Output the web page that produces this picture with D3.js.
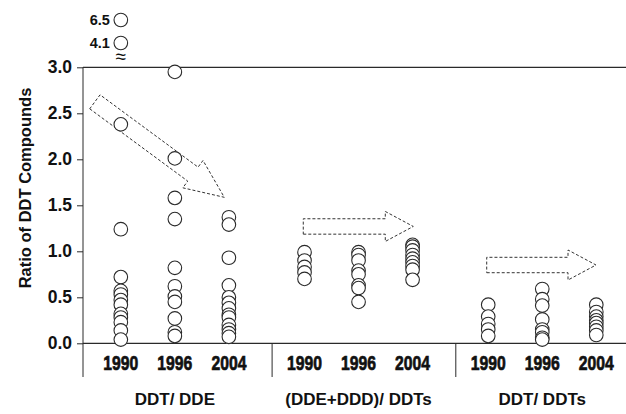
<!DOCTYPE html>
<html>
<head>
<meta charset="utf-8">
<script src="https://cdn.jsdelivr.net/npm/d3@7"></script>
<style>
  html, body { margin: 0; padding: 0; background: #fff; }
  svg { display: block; }
  text { font-family: "Liberation Sans", Arial, sans-serif; font-weight: bold; fill: #111; }
  .year { font-size: 21px; stroke: #111; stroke-width: 0.7px; }
</style>
</head>
<body>
<svg id="chart" width="626" height="414"></svg>
<script>
// Ratio groups and sampling years
const groups = ["DDT/ DDE", "(DDE+DDD)/ DDTs", "DDT/ DDTs"];
const years = ["1990", "1996", "2004"];

// Measured ratios, one array per group and year
const ddtDde1990 = [2.38, 1.24, 0.72, 0.57, 0.53, 0.47, 0.42, 0.32, 0.28, 0.23, 0.14, 0.04];
const ddtDde1996 = [2.95, 2.01, 1.58, 1.35, 0.82, 0.62, 0.51, 0.45, 0.27, 0.12, 0.08];
const ddtDde2004 = [1.37, 1.29, 0.93, 0.63, 0.50, 0.44, 0.38, 0.31, 0.28, 0.20, 0.15, 0.11, 0.07];
const ddeDddDdts1990 = [0.99, 0.90, 0.83, 0.77, 0.70];
const ddeDddDdts1996 = [0.99, 0.96, 0.90, 0.79, 0.75, 0.63, 0.60, 0.45];
const ddeDddDdts2004 = [1.07, 1.05, 1.01, 0.96, 0.92, 0.88, 0.84, 0.80, 0.69];
const ddtDdts1990 = [0.42, 0.29, 0.21, 0.15, 0.08];
const ddtDdts1996 = [0.59, 0.48, 0.41, 0.26, 0.15, 0.12, 0.06, 0.04];
const ddtDdts2004 = [0.42, 0.34, 0.29, 0.25, 0.22, 0.18, 0.14, 0.09];

// Values above the axis break (DDT/ DDE, 1990)
const offScaleValues = [6.5, 4.1];

// Y axis ticks
const yTicks = [0, 0.5, 1.0, 1.5, 2.0, 2.5, 3.0];

// Trend arrows, given in data units (x in year slots, y in ratio)
const trendArrows = [
  { x0: -0.48, y0: 2.625, x1: 1.915, y1: 1.587, shaft: 8.7, head: 17, headLen: 39 },
  { x0: 3.377, y0: 1.27, x1: 5.413, y1: 1.27, shaft: 7.7, head: 15, headLen: 28 },
  { x0: 6.772, y0: 0.851, x1: 8.795, y1: 0.851, shaft: 7.7, head: 15, headLen: 28 }
];

const series = [
  [ddtDde1990, ddtDde1996, ddtDde2004],
  [ddeDddDdts1990, ddeDddDdts1996, ddeDddDdts2004],
  [ddtDdts1990, ddtDdts1996, ddtDdts2004]
];

const svg = d3.select("#chart");
const ink = "#2a2a2a";

// slot index of year j within group g (groups separated by a gap)
const groupGap = 0.4;
const slot = (g, j) => g * (3 + groupGap) + j;

const x = d3.scaleLinear().domain([-0.7, 9.35]).range([83, 626]);
const y = d3.scaleLinear().domain([0, 3]).range([343.3, 67.3]);

// y axis
const yAxis = d3.axisLeft(y).tickValues(yTicks).tickFormat(d3.format(".1f")).tickSize(6).tickPadding(5);
const gy = svg.append("g").attr("transform", `translate(${x(-0.7)},0)`).call(yAxis);
gy.select(".domain").remove();
gy.selectAll(".tick line").attr("stroke", ink).attr("stroke-width", 1);
gy.selectAll(".tick text").style("font-size", "17.5px").attr("font-family", null).attr("fill", "#111");

const frameBottom = 377;
// axis line and horizontal rules at 0 and 3
svg.append("line").attr("x1", x(-0.7)).attr("x2", x(-0.7)).attr("y1", y(3)).attr("y2", frameBottom)
  .attr("stroke", ink).attr("stroke-width", 1);
[0, 3].forEach(v => {
  svg.append("line").attr("x1", x(-0.7)).attr("x2", x(9.35)).attr("y1", y(v)).attr("y2", y(v))
    .attr("stroke", ink).attr("stroke-width", 1.2);
});
// group separators
groups.forEach((gname, g) => {
  if (g === 0) return;
  const sx = x(slot(g - 1, 2) + 0.8);
  svg.append("line").attr("x1", sx).attr("x2", sx).attr("y1", y(0)).attr("y2", frameBottom)
    .attr("stroke", ink).attr("stroke-width", 1);
});

// axis title
svg.append("text")
  .attr("transform", `translate(31,188) rotate(-90)`)
  .attr("text-anchor", "middle")
  .style("font-size", "16.5px")
  .text("Ratio of DDT Compounds");

// trend arrows
function arrowPath(a) {
  const p0 = [x(a.x0), y(a.y0)], p1 = [x(a.x1), y(a.y1)];
  const dx = p1[0] - p0[0], dy = p1[1] - p0[1];
  const L = Math.hypot(dx, dy);
  const u = [dx / L, dy / L], n = [-u[1], u[0]];
  const nb = [p1[0] - u[0] * a.headLen, p1[1] - u[1] * a.headLen];
  const pt = (b, s) => [b[0] + n[0] * s, b[1] + n[1] * s];
  return d3.line()([
    pt(p0, a.shaft), pt(nb, a.shaft), pt(nb, a.head), p1,
    pt(nb, -a.head), pt(nb, -a.shaft), pt(p0, -a.shaft)
  ]) + "Z";
}
svg.append("g").selectAll("path").data(trendArrows).join("path")
  .attr("d", arrowPath)
  .attr("fill", "none")
  .attr("stroke", "#333")
  .attr("stroke-width", 1)
  .attr("stroke-dasharray", "3,2");

// points
const pts = [];
series.forEach((grp, g) => grp.forEach((vals, j) => vals.forEach(v => pts.push({ g, j, v }))));
svg.append("g").selectAll("circle").data(pts).join("circle")
  .attr("cx", d => x(slot(d.g, d.j)))
  .attr("cy", d => y(d.v))
  .attr("r", 6.8)
  .attr("fill", "#fff")
  .attr("stroke", ink)
  .attr("stroke-width", 1.1);

// values beyond the axis break
const breakY = d3.scalePoint().domain(offScaleValues).range([20, 43]);
const bx = x(slot(0, 0));
const brk = svg.append("g");
brk.selectAll("circle").data(offScaleValues).join("circle")
  .attr("cx", bx).attr("cy", d => breakY(d)).attr("r", 6.8)
  .attr("fill", "#fff").attr("stroke", ink).attr("stroke-width", 1.1);
brk.selectAll("text").data(offScaleValues).join("text")
  .attr("x", bx - 11).attr("y", d => breakY(d) + 5)
  .attr("text-anchor", "end")
  .style("font-size", "14.5px")
  .text(d => d3.format(".1f")(d));
svg.append("text").attr("x", bx).attr("y", 63).attr("text-anchor", "middle")
  .style("font-size", "19px").style("font-weight", "normal").text("≈");

// year labels and group titles
groups.forEach((gname, g) => {
  years.forEach((yr, j) => {
    svg.append("text").attr("class", "year")
      .attr("x", x(slot(g, j))).attr("y", 370)
      .attr("text-anchor", "middle")
      .attr("textLength", 35).attr("lengthAdjust", "spacingAndGlyphs")
      .text(yr);
  });
  svg.append("text")
    .attr("x", x(slot(g, 1))).attr("y", 405)
    .attr("text-anchor", "middle")
    .style("font-size", "17px")
    .text(gname);
});
</script>
</body>
</html>
